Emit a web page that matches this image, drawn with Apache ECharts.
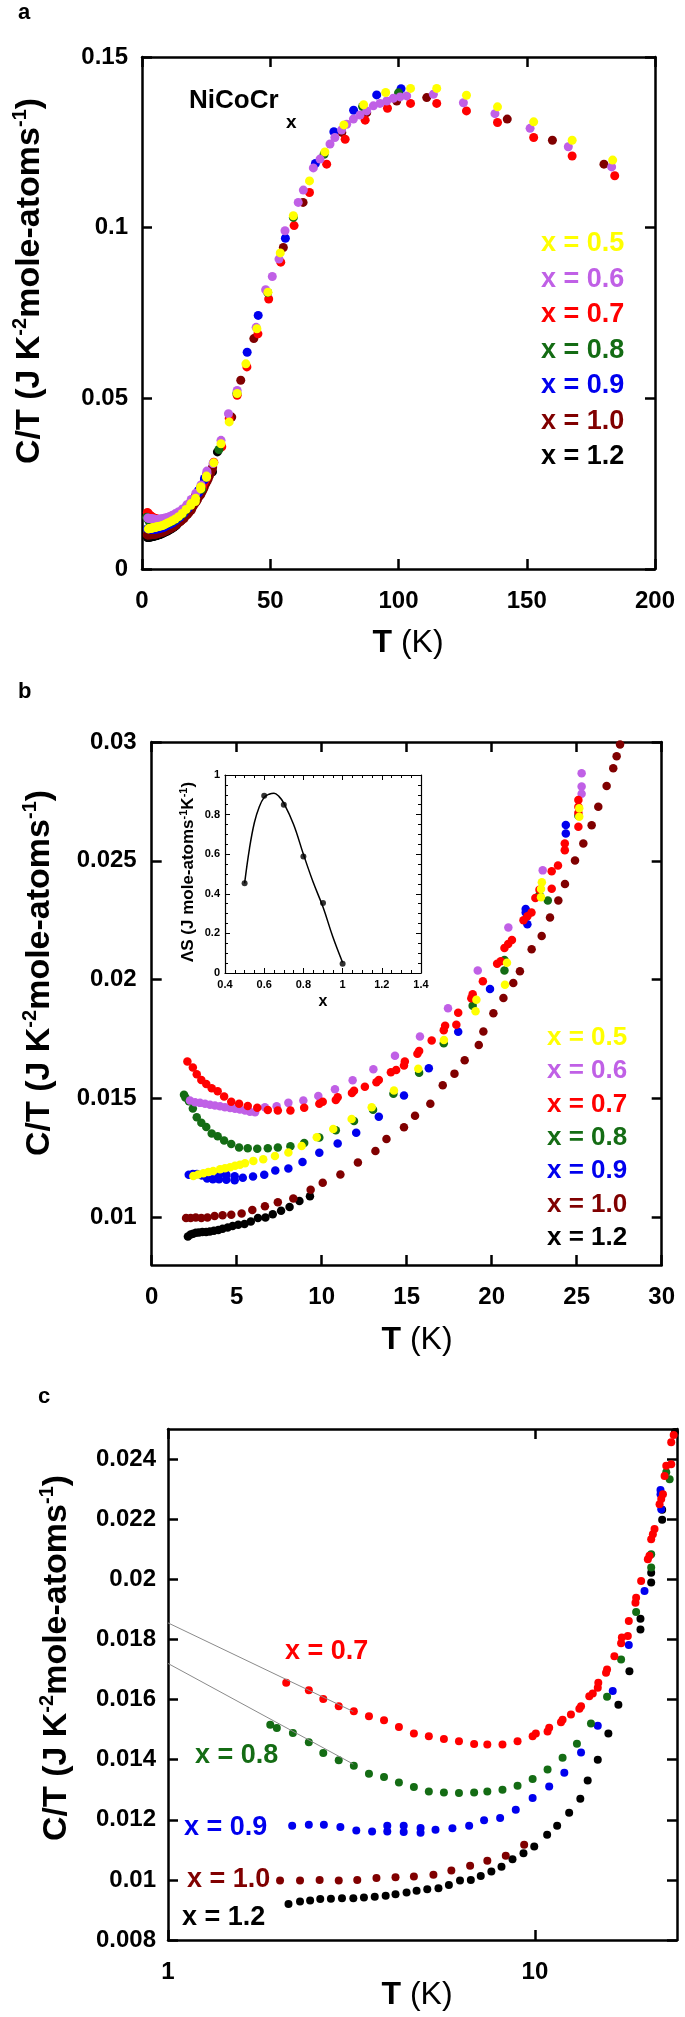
<!DOCTYPE html>
<html><head><meta charset="utf-8">
<script src="https://cdn.jsdelivr.net/npm/echarts@6/dist/echarts.min.js"></script>
<style>html,body{margin:0;padding:0;background:#fff}#c{width:685px;height:2017px}</style>
</head><body><div id="c"></div>
<script>
// ---------- data ----------
const compositions = ['0.5','0.6','0.7','0.8','0.9','1.0','1.2'];
const colors = ['#ffff00','#c060e6','#ff0000','#146c14','#0000ee','#800000','#000000'];

// low-temperature C/T (T [K], C/T) shared by panels a, b, c
const ct05 = [[2.45,0.01174],[2.74,0.01181],[3.04,0.01186],[3.33,0.01191],[3.62,0.01195],[4.02,0.01203],[4.31,0.01207],[4.61,0.01211],[4.9,0.01217],[5.19,0.01222],[5.49,0.01228],[5.98,0.01238],[6.56,0.01245],[7.25,0.01259],[8.04,0.01273],[8.82,0.01301],[9.71,0.01337],[10.68,0.01372],[11.76,0.01414],[12.94,0.01464],[14.25,0.01534],[15.68,0.01626],[17.19,0.01746],[19.05,0.01867],[19.1,0.01916],[20.78,0.01979],[20.9,0.02071],[22.9,0.02347],[22.9,0.02382],[22.95,0.0241],[25.15,0.02686],[25.15,0.02721]];
const ct06 = [[2.25,0.01492],[2.55,0.01485],[2.84,0.01482],[3.14,0.01478],[3.43,0.01474],[3.72,0.01471],[4.02,0.01468],[4.31,0.01464],[4.61,0.0146],[4.9,0.01457],[5.19,0.01454],[5.49,0.0145],[5.78,0.01445],[6.08,0.01443],[6.66,0.01464],[7.35,0.01468],[8.04,0.01482],[8.92,0.01492],[9.8,0.01511],[10.78,0.01539],[11.82,0.01577],[13.04,0.01623],[14.31,0.0168],[15.78,0.01761],[17.43,0.0188],[19.18,0.02039],[20.98,0.0222],[23.0,0.0246],[25.29,0.02782],[25.29,0.02813],[25.29,0.02869]];
const ct07 = [[2.1,0.01656],[2.42,0.01631],[2.65,0.01602],[2.92,0.01578],[3.21,0.01561],[3.53,0.01544],[3.88,0.01531],[4.26,0.01509],[4.68,0.01487],[5.14,0.01478],[5.65,0.01469],[6.21,0.01461],[6.83,0.01452],[7.42,0.0145],[8.16,0.0145],[8.97,0.01461],[9.86,0.01478],[10.06,0.01487],[10.83,0.01494],[10.94,0.01506],[11.78,0.01524],[11.9,0.01533],[12.54,0.0155],[13.22,0.01569],[13.36,0.01578],[14.07,0.01611],[14.38,0.0162],[14.84,0.01639],[14.89,0.01656],[15.63,0.01689],[15.73,0.017],[16.47,0.01744],[17.18,0.01787],[17.26,0.01806],[17.92,0.01811],[18.03,0.01861],[18.8,0.01922],[18.88,0.01939],[19.48,0.01994],[20.32,0.02067],[20.53,0.02078],[20.75,0.02133],[20.97,0.0215],[21.19,0.02167],[21.87,0.0225],[22.1,0.02267],[22.34,0.02283],[22.57,0.02344],[22.81,0.02378],[23.53,0.02383],[23.53,0.02456],[23.9,0.0248],[24.3,0.02545],[24.3,0.02573],[25.1,0.02643],[25.1,0.02701],[25.1,0.02728],[25.1,0.02756]];
const ct08 = [[1.9,0.01516],[1.98,0.01505],[2.19,0.01489],[2.42,0.01458],[2.65,0.01422],[2.92,0.01398],[3.21,0.0138],[3.53,0.01353],[3.88,0.01342],[4.26,0.01324],[4.68,0.01309],[5.14,0.01294],[5.65,0.01291],[6.21,0.01289],[6.83,0.01291],[7.42,0.01294],[8.16,0.013],[8.97,0.01313],[9.86,0.01336],[10.83,0.01367],[11.9,0.01406],[13.02,0.01453],[14.22,0.0152],[15.73,0.01609],[17.18,0.01733],[18.88,0.01891],[20.75,0.02039],[20.75,0.02083],[22.81,0.02356],[23.3,0.02333],[25.1,0.0269]];
const ct09 = [[2.18,0.0118],[2.42,0.01183],[2.66,0.01183],[2.95,0.01176],[3.26,0.01164],[3.6,0.01161],[3.96,0.0118],[3.96,0.01161],[4.39,0.0118],[4.39,0.01159],[4.88,0.01173],[4.88,0.01157],[5.36,0.01167],[5.96,0.01172],[6.62,0.0118],[7.27,0.01198],[8.04,0.01206],[8.87,0.01233],[9.86,0.01272],[10.94,0.01311],[12.03,0.01356],[13.36,0.01424],[14.84,0.01513],[16.3,0.01628],[18.03,0.01781],[19.9,0.01961],[22.1,0.02233],[22.0,0.02283],[22.0,0.02297],[24.36,0.02615],[24.36,0.02651]];
const ct10Low = [[2.02,0.00998],[2.29,0.00998],[2.59,0.01],[2.92,0.00998],[3.28,0.01],[3.7,0.01006],[4.17,0.01009],[4.68,0.01011],[5.29,0.01017],[5.92,0.01031],[6.66,0.01047],[7.42,0.01064],[8.33,0.0108],[9.35,0.01117]];
const ct10High = [[10.06,0.01146],[11.1,0.01181],[12.13,0.01231],[13.16,0.0128],[13.81,0.0133],[14.84,0.01379],[15.49,0.01428],[16.39,0.01478],[17.12,0.01556],[17.81,0.01605],[18.41,0.01661],[19.24,0.01725],[19.51,0.01782],[20.1,0.01859],[20.69,0.01923],[21.27,0.01986],[21.66,0.02036],[22.35,0.02128],[22.94,0.02184],[23.43,0.02262],[23.92,0.02333],[24.31,0.02403],[24.9,0.02502],[25.39,0.02573],[25.88,0.0265],[26.27,0.02728],[26.76,0.02815],[27.15,0.0289],[27.35,0.0294],[27.55,0.02989]];
const ct12Low = [[2.13,0.0092],[2.29,0.00928],[2.44,0.00931],[2.6,0.00936],[2.78,0.00937],[2.98,0.00939],[3.2,0.00939],[3.42,0.00941],[3.66,0.00944],[3.92,0.00947],[4.17,0.00952],[4.47,0.00958],[4.76,0.00964],[5.09,0.00969],[5.46,0.00972],[5.83,0.00983],[6.25,0.00998],[6.69,0.01],[7.12,0.01013],[7.61,0.01028],[8.11,0.01044],[8.69,0.01069],[9.31,0.01089]];
const ct12High = [[9.96,0.01111],[10.8,0.0115],[11.5,0.0118],[12.4,0.01223],[13.3,0.0127],[13.93,0.01331],[14.84,0.014],[15.86,0.01487],[16.89,0.01583],[18.1,0.01694],[19.4,0.01833],[19.4,0.01869],[20.75,0.01989],[20.75,0.02022],[22.23,0.02198],[22.23,0.02231],[24.1,0.0249]];

// high-temperature C/T shown only in panel a
const aHigh05 = [[28,0.0311],[30.8,0.0367],[34,0.0431],[37.1,0.0514],[40.5,0.0601],[44.8,0.0704],[49.1,0.0811],[53.9,0.0926],[59,0.1035],[65.3,0.1137],[71.3,0.1222],[78.7,0.1301],[86.4,0.136],[95,0.1396],[104.7,0.1408],[114.9,0.1408],[126.5,0.1388],[138.6,0.1354],[152.7,0.131],[167.7,0.1256],[183.5,0.1198]];
const aHigh06 = [[27.7,0.0309],[30.8,0.0377],[33.7,0.0455],[37.1,0.0523],[44.5,0.0708],[48.2,0.0818],[50.8,0.0857],[53.4,0.0908],[55.75,0.0991],[60.9,0.1074],[62.9,0.111],[66.8,0.1175],[69.4,0.1201],[73.3,0.1245],[75.2,0.1264],[77.8,0.1286],[79.8,0.1303],[82.4,0.1318],[85,0.133],[87.6,0.1342],[90.2,0.1357],[92.8,0.1364],[95.4,0.1371],[98,0.1379],[100.6,0.1383],[103.2,0.1386],[113.6,0.1391],[125.3,0.1366],[137.6,0.1334],[151.3,0.1291],[166.2,0.1237],[183.1,0.1178]];
const aHigh07 = [[28,0.0313],[31.1,0.0358],[34,0.0441],[37.1,0.0509],[40.9,0.0592],[45.2,0.0689],[49.4,0.0791],[54.1,0.0899],[59.3,0.1006],[65.3,0.1103],[72,0.1186],[79.2,0.1259],[87,0.1315],[95.7,0.135],[104.7,0.1364],[114.9,0.1364],[126.5,0.1342],[138.6,0.1308],[152.7,0.1264],[167.7,0.121],[184.3,0.1152]];
const aHigh08 = [[30,0.035],[37,0.0515],[49,0.081],[59,0.103],[71,0.1215],[86,0.1355],[100,0.1395]];
const aHigh09 = [[41,0.0635],[45.3,0.0743],[55.9,0.0969],[67.6,0.1188],[74.8,0.1281],[82.5,0.1344],[91.5,0.1389],[101,0.1407]];
const aHigh10 = [[35,0.0445],[38.5,0.0553],[43.6,0.0675],[55.1,0.0942],[62.8,0.1074],[77.9,0.1279],[87.6,0.1337],[99.3,0.1371],[111,0.1381],[142.4,0.1318],[160,0.1256],[180.1,0.1186]];
const aHigh12 = [[27.5,0.0285],[29.4,0.0343]];

// panel c straight guide lines (log-T fits)
const fitLine07 = [[1,0.01855],[3.2,0.0156]];
const fitLine08 = [[1,0.0172],[3.2,0.01385]];

// inset: entropy vs x
const insetX = [0.5,0.6,0.7,0.8,0.9,1.0];
const insetS = [0.453,0.895,0.85,0.588,0.353,0.047];
const insetCurveX = [0.5,0.525,0.55,0.575,0.6,0.625,0.65,0.675,0.7,0.75,0.8,0.85,0.9,0.95,1.0];
const insetCurveS = [0.453,0.63,0.76,0.84,0.887,0.903,0.908,0.892,0.858,0.75,0.6,0.458,0.333,0.183,0.053];

// tick label values
const yTicksB = [0.01,0.015,0.02,0.025,0.03];
const yTicksC = [0.008,0.01,0.012,0.014,0.016,0.018,0.02,0.022,0.024];
const xTicksC = [1,10];

// ---------- chart ----------
const FONT = '"Liberation Sans", Arial, Helvetica, sans-serif';
const chart = echarts.init(document.getElementById('c'), null, {renderer:'canvas', width:685, height:2017});

function axLine(w){ return {show:true, onZero:false, lineStyle:{color:'#000', width:w||2.5}}; }
function tick(len, cv, w){ const t = {show:true, inside:true, length:len, lineStyle:{color:'#000', width:w||2.5}}; if (cv) t.customValues = cv; return t; }
function lab(size, margin, cv){ const l = {show:true, fontSize:size, fontWeight:'bold', fontFamily:FONT, color:'#000', margin:margin}; if (cv) l.customValues = cv; return l; }
const noLab = {show:false};
const noSplit = {show:false};

function pair(kind, grid, base, labOpt, tickOpt, extra){
  const pos = kind === 'x' ? ['bottom','top'] : ['left','right'];
  return [
    Object.assign({gridIndex:grid, position:pos[0], axisLine:axLine(extra&&extra.w), axisTick:tickOpt, axisLabel:labOpt, splitLine:noSplit}, base),
    Object.assign({gridIndex:grid, position:pos[1], axisLine:axLine(extra&&extra.w), axisTick:tickOpt, axisLabel:noLab, splitLine:noSplit}, base)
  ];
}

const minor = {show:true, splitNumber:4, length:3, lineStyle:{color:'#000', width:1}};
const xAxes = [].concat(
  pair('x', 0, {type:'value', min:0, max:200, interval:50}, lab(24,20), tick(10)),
  pair('x', 1, {type:'value', min:0, max:30, interval:5}, lab(24,20), tick(10)),
  pair('x', 2, {type:'value', min:0.4, max:1.4, interval:0.2, minorTick:minor}, lab(11,6), tick(5, null, 1), {w:1.2}),
  pair('x', 3, {type:'log', logBase:10, min:1, max:24.4}, lab(24,20,xTicksC), tick(10, xTicksC))
);
const yAxes = [].concat(
  pair('y', 0, {type:'value', min:0, max:0.15, interval:0.05}, lab(24,14), tick(10)),
  pair('y', 1, {type:'value', min:0.008, max:0.03}, lab(24,15,yTicksB), tick(10, yTicksB)),
  pair('y', 2, {type:'value', min:0, max:1, interval:0.2, minorTick:minor}, lab(11,5), tick(5, null, 1), {w:1.2}),
  pair('y', 3, {type:'value', min:0.008, max:0.025}, lab(24,12,yTicksC), tick(10, yTicksC))
);

function sc(axisIdx, idx, data, size){
  return {type:'scatter', name:'x = '+compositions[idx], xAxisIndex:axisIdx, yAxisIndex:axisIdx, data:data,
    symbol:'circle', symbolSize:size, itemStyle:{color:colors[idx], opacity:1}, silent:true, clip:true};
}

const series = [
  // panel a (axes 0)
  sc(0, 6, ct12Low.concat(ct12High, aHigh12), 9),
  sc(0, 5, ct10Low.concat(ct10High, aHigh10), 9),
  sc(0, 2, ct07.concat(aHigh07), 9),
  sc(0, 4, ct09.concat(aHigh09), 9),
  sc(0, 3, ct08.concat(aHigh08), 9),
  sc(0, 1, ct06.concat(aHigh06), 9),
  sc(0, 0, ct05.concat(aHigh05), 9),
  // panel b (axes 2)
  sc(2, 6, ct12Low, 8.5),
  sc(2, 5, ct10Low.concat(ct10High), 8.5),
  sc(2, 4, ct09, 8.5),
  sc(2, 3, ct08, 8.5),
  sc(2, 1, ct06, 8.5),
  sc(2, 2, ct07, 8.5),
  sc(2, 0, ct05, 8.5),
  // inset (axes 4)
  {type:'line', xAxisIndex:4, yAxisIndex:4, data:insetCurveX.map((x,i)=>[x, insetCurveS[i]]), smooth:0.4, symbol:'none', lineStyle:{color:'#000', width:1.5}, silent:true, z:3},
  {type:'scatter', xAxisIndex:4, yAxisIndex:4, data:insetX.map((x,i)=>[x, insetS[i]]), symbolSize:6, itemStyle:{color:'#000'}, silent:true, z:4},
  // panel c (axes 6)
  {type:'line', xAxisIndex:6, yAxisIndex:6, data:fitLine07, symbol:'none', lineStyle:{color:'#8a8a8a', width:1}, silent:true},
  {type:'line', xAxisIndex:6, yAxisIndex:6, data:fitLine08, symbol:'none', lineStyle:{color:'#8a8a8a', width:1}, silent:true},
  sc(6, 6, ct12Low.concat(ct12High), 8),
  sc(6, 5, ct10Low, 8),
  sc(6, 4, ct09, 8),
  sc(6, 3, ct08, 8),
  sc(6, 2, ct07, 8)
];

// ---------- text ----------
const g = [];
function txt(x, y, text, size, color, opts){
  g.push(Object.assign({type:'text', x:x, y:y, silent:true, z:100,
    style:Object.assign({text:text, fontSize:size, fontWeight:'bold', fontFamily:FONT, fill:color||'#000', align:'left', verticalAlign:'middle'}, (opts&&opts.style)||{})},
    (opts&&opts.el)||{}));
}
const yTitle = '{m|C/T (J K}{s|-2}{m|mole-atoms}{s|-1}{m|)}';
const yRich = {m:{fontSize:34, fontWeight:'bold', fontFamily:FONT, fill:'#000', lineHeight:40, verticalAlign:'middle'},
               s:{fontSize:20, fontWeight:'bold', fontFamily:FONT, fill:'#000', lineHeight:16, verticalAlign:'top'}};
function yTitleAt(x, y){ txt(x, y, yTitle, 34, '#000', {style:{rich:yRich, align:'center'}, el:{rotation:Math.PI/2}}); }
const xTitle = '{b|T }{r|(K)}';
const xRich = {b:{fontSize:32, fontWeight:'bold', fontFamily:FONT, fill:'#000'}, r:{fontSize:32, fontWeight:'normal', fontFamily:FONT, fill:'#000'}};
function xTitleAt(x, y){ txt(x, y, xTitle, 32, '#000', {style:{rich:xRich, align:'center'}}); }

// panel letters
txt(18, 13, 'a', 22);
txt(18, 692, 'b', 22);
txt(38, 1397, 'c', 22);
// panel a
yTitleAt(30, 281); xTitleAt(408, 643);
txt(189, 101, 'NiCoCr', 26);
txt(286, 123, 'x', 19);
compositions.forEach((c, i) => txt(541, 244 + i*35.5, 'x = ' + c, 27, colors[i]));
// panel b
yTitleAt(40, 973); xTitleAt(417, 1340);
compositions.forEach((c, i) => txt(547, 1038 + i*33.3, 'x = ' + c, 26, colors[i]));
// inset titles
txt(188, 872, '{m|ΛS (J mole-atoms}{s|-1}{m|K}{s|-1}{m|)}', 17, '#000', {style:{align:'center', rich:{
  m:{fontSize:17, fontWeight:'bold', fontFamily:FONT, fill:'#000', lineHeight:20, verticalAlign:'middle'},
  s:{fontSize:11, fontWeight:'bold', fontFamily:FONT, fill:'#000', lineHeight:10, verticalAlign:'top'}}}, el:{rotation:Math.PI/2}});
txt(323, 1002, 'x', 16, '#000', {style:{align:'center'}});
// panel c
yTitleAt(57, 1658); xTitleAt(417, 1995);
const cLabels = [[2, 285, 1652], [3, 195, 1756], [4, 184, 1828], [5, 187, 1880], [6, 182, 1918]];
cLabels.forEach(([i, x, y]) => txt(x, y, 'x = ' + compositions[i], 27, colors[i]));

chart.setOption({
  animation:false,
  backgroundColor:'#fff',
  textStyle:{fontFamily:FONT},
  grid:[
    {left:142, top:57, width:513, height:512},
    {left:151.7, top:742, width:510, height:523},
    {left:225, top:775, width:196, height:198},
    {left:168, top:1429, width:509, height:511}
  ],
  xAxis:xAxes,
  yAxis:yAxes,
  series:series,
  graphic:g
});
</script></body></html>
